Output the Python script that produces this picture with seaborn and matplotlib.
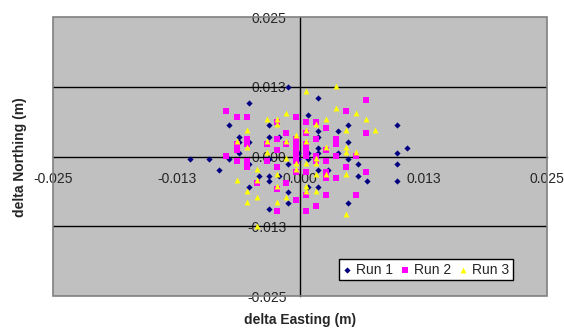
import matplotlib
matplotlib.use('Agg')
import matplotlib.pyplot as plt
from matplotlib.patches import Rectangle
import numpy as np
import pandas as pd
import seaborn as sns

# delta Easting / Northing (m) for each run
run1_x = [-0.0012, -0.0052, 0.0018, 0.0008, -0.0072, -0.0032, 0.0048, 0.0098, 0.0038, 0.0018,
          -0.0062, -0.0032, -0.0022, 0.0018, -0.0062, -0.0052, 0.0048, 0.0018, 0.0108, -0.0062,
          0.0008, 0.0018, 0.0038, 0.0098, -0.0112, -0.0092, -0.0072, -0.0032, -0.0002, 0.0008,
          0.0048, -0.0052, -0.0012, 0.0058, 0.0098, -0.0082, 0.0018, 0.0028, -0.0042, -0.0032,
          -0.0022, 0.0058, -0.0032, 0.0068, 0.0098, -0.0052, 0.0008, 0.0018, -0.0012, -0.0012,
          0.0048, -0.0032, -0.0002]
run1_y = [0.0125, 0.0096, 0.0106, 0.0075, 0.0056, 0.0056, 0.0056, 0.0056, 0.0046, 0.0046,
          0.0036, 0.0036, 0.0036, 0.0036, 0.0026, 0.0026, 0.0026, 0.0016, 0.0016, 0.0006,
          0.0006, 0.0006, 0.0006, 0.0006, -0.0004, -0.0004, -0.0004, -0.0004, -0.0004, -0.0004,
          -0.0004, -0.0014, -0.0014, -0.0014, -0.0014, -0.0024, -0.0024, -0.0024, -0.0034, -0.0034,
          -0.0034, -0.0034, -0.0044, -0.0044, -0.0044, -0.0054, -0.0054, -0.0054, -0.0064, -0.0084,
          -0.0084, -0.0094, 0.0006]

run2_x = [-0.0075, -0.0064, -0.0054, -0.0004, 0.0066, 0.0046, 0.0006, 0.0016, 0.0026, -0.0024,
          -0.0014, 0.0066, 0.0006, -0.0054, -0.0024, -0.0004, 0.0016, 0.0036, 0.0036, -0.0064,
          -0.0054, -0.0034, -0.0014, -0.0004, 0.0006, -0.0064, -0.0024, -0.0004, 0.0026, 0.0006,
          -0.0075, -0.0004, 0.0006, 0.0016, 0.0036, 0.0056, -0.0064, -0.0054, -0.0034, -0.0004,
          0.0016, 0.0026, -0.0054, -0.0024, 0.0046, -0.0004, 0.0026, 0.0066, 0.0006, 0.0026,
          -0.0044, -0.0014, -0.0024, 0.0006, 0.0026, 0.0056, -0.0004, 0.0016, -0.0024, 0.0006,
          0.0036]
run2_y = [0.0082, 0.0072, 0.0072, 0.0072, 0.0102, 0.0082, 0.0062, 0.0062, 0.0052, 0.0062,
          0.0042, 0.0042, 0.0042, 0.0032, 0.0032, 0.0032, 0.0032, 0.0032, 0.0022, 0.0022,
          0.0022, 0.0022, 0.0022, 0.0022, 0.0022, 0.0012, 0.0012, 0.0012, 0.0012, 0.0012,
          0.0002, 0.0002, 0.0002, 0.0002, 0.0002, 0.0002, -0.0008, -0.0008, -0.0008, -0.0008,
          -0.0008, -0.0008, -0.0018, -0.0018, -0.0018, -0.0028, -0.0028, -0.0028, -0.0028, -0.0038,
          -0.0048, -0.0048, -0.0058, -0.0068, -0.0068, -0.0068, -0.0078, -0.0088, -0.0098, -0.0098,
          -0.0038]

run3_x = [0.0036, 0.0006, 0.0036, -0.0014, 0.0056, -0.0034, -0.0024, 0.0026, 0.0066, -0.0024,
          0.0016, -0.0054, 0.0006, 0.0046, 0.0076, -0.0004, -0.0064, -0.0034, -0.0014, 0.0006,
          -0.0054, 0.0026, 0.0046, -0.0034, 0.0056, 0.0046, -0.0014, 0.0016, -0.0004, 0.0006,
          0.0016, -0.0044, -0.0004, -0.0024, 0.0016, 0.0026, 0.0046, -0.0064, -0.0044, -0.0024,
          0.0006, -0.0054, 0.0016, 0.0006, -0.0044, -0.0014, -0.0054, -0.0024, 0.0046, -0.0044]
run3_y = [0.0127, 0.0118, 0.0088, 0.0078, 0.0078, 0.0068, 0.0068, 0.0068, 0.0068, 0.0058,
          0.0058, 0.0048, 0.0048, 0.0048, 0.0048, 0.0038, 0.0028, 0.0028, 0.0028, 0.0028,
          0.0018, 0.0018, 0.0018, 0.0008, 0.0008, 0.0008, -0.0002, -0.0002, -0.0012, -0.0012,
          -0.0012, -0.0022, -0.0022, -0.0032, -0.0032, -0.0032, -0.0032, -0.0042, -0.0042, -0.0052,
          -0.0052, -0.0062, -0.0062, -0.0062, -0.0072, -0.0072, -0.0082, -0.0082, -0.0102, -0.0124]

runs = ['Run 1', 'Run 2', 'Run 3']
tick_vals = [-0.025, -0.0125, 0.0, 0.0125, 0.025]
tick_labels = ['-0.025', '-0.013', '0.000', '0.013', '0.025']

df = pd.concat([
    pd.DataFrame({'east': run1_x, 'north': run1_y, 'run': 'Run 1'}),
    pd.DataFrame({'east': run2_x, 'north': run2_y, 'run': 'Run 2'}),
    pd.DataFrame({'east': run3_x, 'north': run3_y, 'run': 'Run 3'}),
])

sns.set_style('white')
plt.rcParams['font.family'] = ['Liberation Sans', 'DejaVu Sans']

fig = plt.figure(figsize=(5.64, 3.29), dpi=100)
ax = fig.add_axes([53.3/564, 1-296/329, 494/564, 278.7/329])
ax.set_facecolor('#C0C0C0')

colors = {'Run 1': '#000080', 'Run 2': '#FF00FF', 'Run 3': '#FFFF00'}
markers = {'Run 1': 'D', 'Run 2': 's', 'Run 3': '^'}
sizes = {'Run 1': 10, 'Run 2': 14, 'Run 3': 18}
for r in runs:
    sub = df[df['run'] == r]
    sns.scatterplot(data=sub, x='east', y='north', ax=ax, color=colors[r], marker=markers[r],
                    s=sizes[r], linewidth=0, label=r, zorder=3)

ax.set_xlim(-0.025, 0.025)
ax.set_ylim(-0.025, 0.025)

# horizontal gridlines only
for v in [-0.0125, 0.0125]:
    ax.axhline(v, color='black', lw=1, zorder=1)

# axes crossing at zero
for s in ['top', 'right']:
    ax.spines[s].set_visible(False)
ax.spines['left'].set_position('zero')
ax.spines['bottom'].set_position('zero')
ax.spines['left'].set_color('black')
ax.spines['bottom'].set_color('black')
ax.spines['left'].set_linewidth(1)
ax.spines['bottom'].set_linewidth(1)
ax.add_patch(Rectangle((0, 0), 1, 1, transform=ax.transAxes, fill=False,
                       edgecolor='#808080', lw=1.2, zorder=5, clip_on=False))

ax.set_xticks(tick_vals)
ax.set_xticklabels(tick_labels)
ax.set_yticks(tick_vals)
ax.set_yticklabels(tick_labels)
ax.tick_params(axis='x', direction='out', length=4, width=1, pad=7, labelsize=10, color='black')
ax.tick_params(axis='y', direction='out', length=4, width=1, pad=6, labelsize=10, color='black')
ax.set_xlabel('')
ax.set_ylabel('')

fig.text(300/564, 1-320/329, 'delta Easting (m)', ha='center', va='center',
         fontsize=10, fontweight='bold')
fig.text(20/564, 1-157/329, 'delta Northing (m)', ha='center', va='center',
         fontsize=10, fontweight='bold', rotation=90)

leg = ax.legend(loc='center', bbox_to_anchor=(0.7545, 0.095), ncol=3, fontsize=10,
                frameon=True, fancybox=False, edgecolor='black', framealpha=1,
                handlelength=0.6, handletextpad=0.4, columnspacing=0.5,
                borderpad=0.25, borderaxespad=0, markerscale=1.0)
leg.get_frame().set_linewidth(1)
leg.set_zorder(6)

fig.savefig('out.png', dpi=100, facecolor='white')
